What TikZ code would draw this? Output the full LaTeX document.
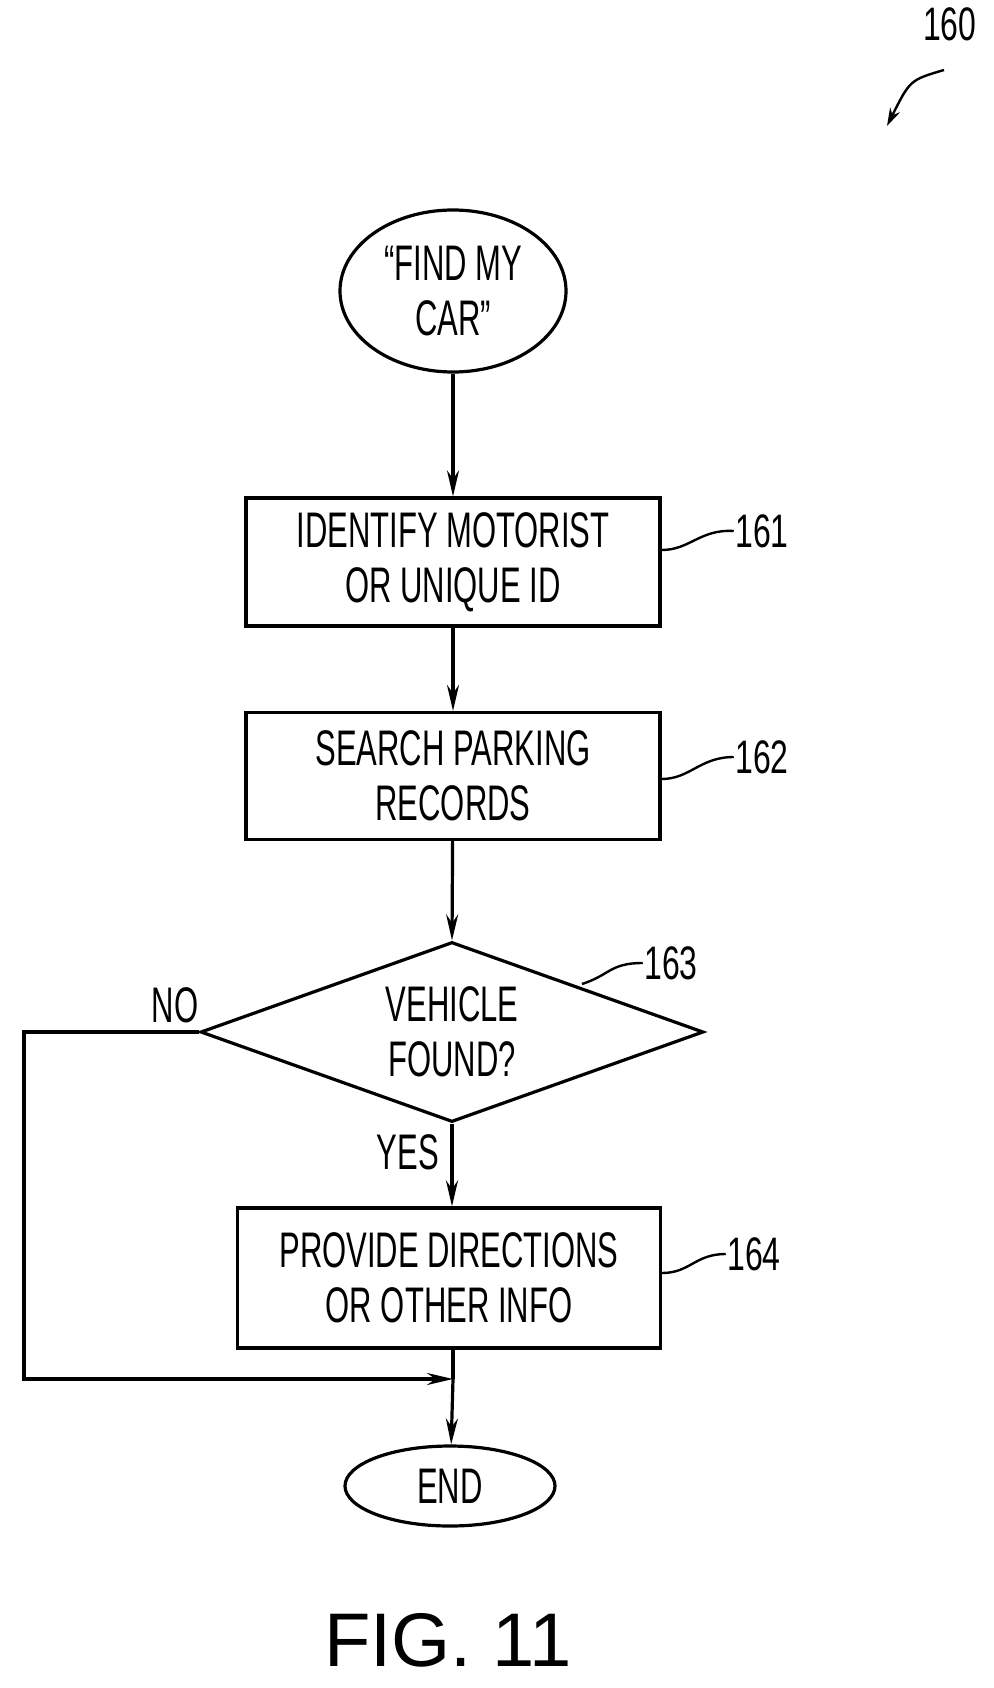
\documentclass[tikz,border=0pt]{standalone}
\usepackage{fontspec}
\setmainfont{Liberation Sans}
\newfontfamily\narrowf{Liberation Sans}[FakeStretch=0.62]
\newfontfamily\numf{Liberation Sans}[FakeStretch=0.68]
\usetikzlibrary{shapes.geometric,arrows.meta}
\begin{document}
\begin{tikzpicture}[x=1pt,y=-1pt,line width=3.2pt,
  txt/.style={font=\narrowf\fontsize{50}{55}\selectfont,align=center},
  box/.style={draw,rectangle,inner sep=0,txt},
  arr/.style={-{Stealth[length=26pt,width=12pt]}},
  lead/.style={line width=2.4pt},
  num/.style={font=\numf\fontsize{47}{50}\selectfont,inner sep=0}]
\useasboundingbox (0,0) rectangle (993,1688);
\node[draw,ellipse,minimum width=226pt,minimum height=162pt,inner sep=0,txt] (start) at (453,291) {“FIND MY\\CAR”};
\node[box,minimum width=414pt,minimum height=128pt] (b161) at (453,562) {IDENTIFY MOTORIST\\OR UNIQUE ID};
\node[box,minimum width=414pt,minimum height=127pt] (b162) at (453,776) {SEARCH PARKING\\RECORDS};
\node[draw,diamond,minimum width=503pt,minimum height=180pt,aspect=2.8,inner sep=0,txt] (d163) at (452,1032) {VEHICLE\\FOUND?};
\node[box,minimum width=423pt,minimum height=140pt] (b164) at (449,1278) {PROVIDE DIRECTIONS\\OR OTHER INFO};
\node[draw,ellipse,minimum width=210pt,minimum height=80pt,inner sep=0,txt] (end) at (450,1486) {END};
\node[font=\fontsize{76}{80}\selectfont] (fig) at (448,1640) {FIG. 11};
\coordinate (j) at (453,1379);
\coordinate (l1) at (24,1032);
\coordinate (l2) at (24,1379);
\draw[arr] (start) -- (b161);
\draw[arr] (b161) -- (b162);
\draw[arr] (b162) -- (d163.north);
\draw[arr] (d163.south) -- (b164.north -| d163.south);
\draw (b164.south -| j) -- (j);
\draw[arr] (j) -- (end);
\draw[arr] (d163.west) -- (l1) -- (l2) -- (j);
\node[txt,inner sep=0] (no) at (175,1005) {NO};
\node[txt,inner sep=0] (yes) at (408,1152) {YES};
% reference labels
\node[num,anchor=east] (n160) at (978,24) {160};
\coordinate (a160s) at (944,70);
\coordinate (a160e) at (887,126);
\draw[lead,-{Stealth[length=18pt,width=11pt]}] (a160s) .. controls (910,80) .. (a160e);
\node[num] (n161) at (762,531) {161};
\node[num] (n162) at (762,757) {162};
\node[num] (n163) at (671,963) {163};
\node[num] (n164) at (754,1254) {164};
\draw[lead] (b161.east |- 0,550) .. controls (690,550) and (700,529) .. (n161.west);
\draw[lead] (b162.east |- 0,779) .. controls (690,779) and (700,757) .. (n162.west);
\draw[lead] (582,984) .. controls (610,975) and (610,963) .. (n163.west);
\draw[lead] (b164.east |- 0,1273) .. controls (690,1273) and (695,1254) .. (n164.west);
\end{tikzpicture}
\end{document}
